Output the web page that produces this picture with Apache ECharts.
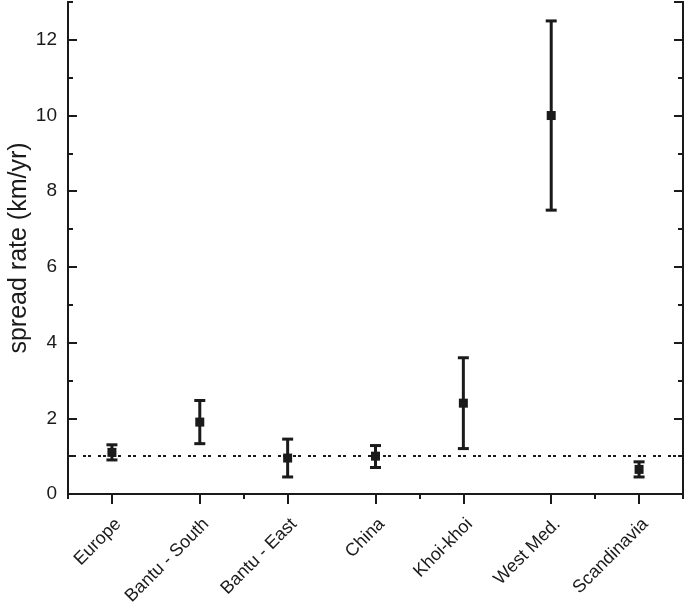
<!DOCTYPE html>
<html><head><meta charset="utf-8">
<script src="https://cdn.jsdelivr.net/npm/echarts@6/dist/echarts.min.js"></script>
<style>html,body{margin:0;padding:0;background:#fff}#c{width:685px;height:609px}</style>
</head><body><div id="c"></div>
<script>
const categories = ['Europe','Bantu - South','Bantu - East','China','Khoi-khoi','West Med.','Scandinavia'];
const rates = [1.1, 1.9, 0.95, 1.0, 2.4, 10.0, 0.65];
const lows  = [0.9, 1.33, 0.45, 0.7, 1.2, 7.5, 0.45];
const highs = [1.3, 2.47, 1.45, 1.28, 3.6, 12.5, 0.85];
const referenceRate = 1;

const ink = '#1a1a1a';
const font = 'Liberation Sans, Arial, sans-serif';
const chart = echarts.init(document.getElementById('c'));
const lineW = 2;
function xa(pos, major, show) {
  return {
    type: 'category', data: categories, position: pos, gridIndex: 0, boundaryGap: true,
    axisLine: { show: true, lineStyle: { color: ink, width: lineW } },
    axisTick: { show: true, alignWithLabel: major, inside: pos === 'top', length: major ? 10 : 5, lineStyle: { color: ink, width: lineW } },
    axisLabel: show ? { show: true, rotate: 45, fontSize: 18, fontFamily: font, color: ink, margin: 21, align: 'right', verticalAlign: 'top' } : { show: false },
    splitLine: { show: false }
  };
}
function ya(pos, major, show) {
  return {
    type: 'value', min: 0, max: 13, interval: major ? 2 : 1, position: pos,
    axisLine: { show: true, lineStyle: { color: ink, width: lineW } },
    axisTick: { show: true, inside: true, length: major ? 9 : 5, lineStyle: { color: ink, width: lineW } },
    axisLabel: show ? { show: true, fontSize: 19, fontFamily: font, color: ink, margin: 11, showMaxLabel: false } : { show: false },
    splitLine: { show: false },
    name: show ? 'spread rate (km/yr)' : '', nameLocation: 'middle', nameGap: 36, nameMoveOverlap: false,
    nameTextStyle: { fontSize: 25, fontFamily: font, color: ink }
  };
}
const errData = categories.map((c, i) => [i, lows[i], highs[i]]);
chart.setOption({
  animation: false,
  grid: { left: 68, right: 2, top: 2, bottom: 115, containLabel: false, outerBoundsMode: 'none' },
  xAxis: [xa('bottom', true, true), xa('bottom', false, false), xa('top', true, false), xa('top', false, false)],
  yAxis: [ya('left', true, true), ya('left', false, false), ya('right', true, false), ya('right', false, false)],
  series: [
    {
      type: 'custom', xAxisIndex: 0, yAxisIndex: 0, data: errData, z: 3,
      renderItem: function (params, api) {
        const x = api.value(0);
        const lo = api.coord([x, api.value(1)]);
        const hi = api.coord([x, api.value(2)]);
        const hw = 5.5;
        const st = { stroke: ink, lineWidth: 3, fill: null };
        return { type: 'group', children: [
          { type: 'line', shape: { x1: lo[0], y1: lo[1], x2: hi[0], y2: hi[1] }, style: st },
          { type: 'line', shape: { x1: lo[0] - hw, y1: lo[1], x2: lo[0] + hw, y2: lo[1] }, style: st },
          { type: 'line', shape: { x1: hi[0] - hw, y1: hi[1], x2: hi[0] + hw, y2: hi[1] }, style: st }
        ]};
      },
      encode: { x: 0, y: [1, 2] }
    },
    {
      type: 'scatter', xAxisIndex: 0, yAxisIndex: 0, symbol: 'rect', symbolSize: 9, z: 4,
      itemStyle: { color: ink, opacity: 1 },
      data: rates.map((v, i) => [i, v]),
      markLine: {
        silent: true, symbol: 'none', label: { show: false },
        lineStyle: { color: ink, width: 2, type: [3, 2, 3, 7], opacity: 1 },
        data: [{ yAxis: referenceRate }]
      }
    }
  ]
});
</script></body></html>
